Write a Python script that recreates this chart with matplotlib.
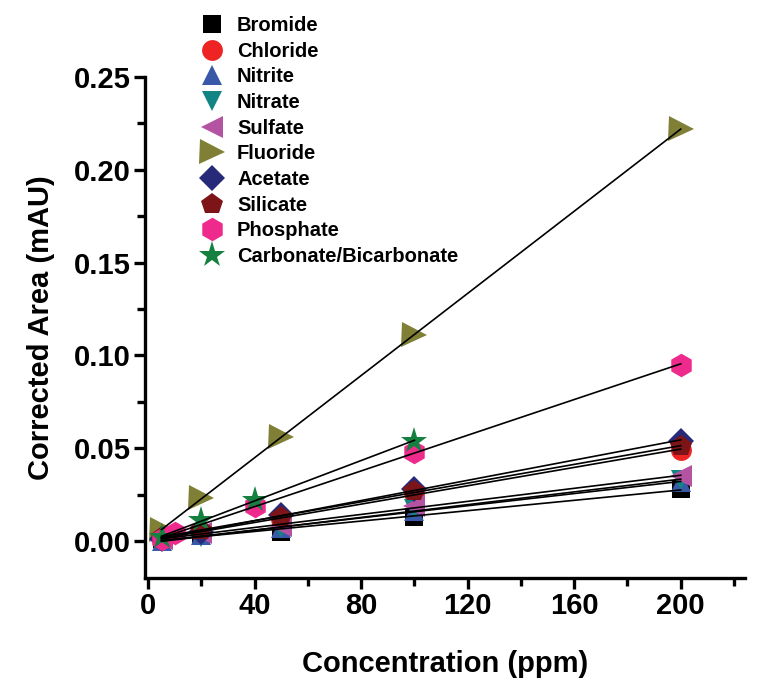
import numpy as np
import matplotlib
matplotlib.use("Agg")
import matplotlib.pyplot as plt
from matplotlib.ticker import MultipleLocator

plt.rcParams['font.family'] = ['Liberation Sans', 'DejaVu Sans']
plt.rcParams['font.weight'] = 'bold'

# ---- data ----
names = ["Bromide", "Chloride", "Nitrite", "Nitrate", "Sulfate", "Fluoride",
         "Acetate", "Silicate", "Phosphate", "Carbonate/Bicarbonate"]
conc_std = [5, 20, 50, 100, 200]
conc_phosphate = [5, 10, 40, 100, 200]
conc_carbonate = [5, 20, 40, 100]

bromide = [0.001, 0.003, 0.005, 0.013, 0.028]
chloride = [0.001, 0.005, 0.012, 0.026, 0.049]
nitrite = [0.000, 0.003, 0.007, 0.016, 0.032]
nitrate = [0.000, 0.002, 0.007, 0.017, 0.033]
sulfate = [0.001, 0.004, 0.008, 0.019, 0.035]
fluoride = [0.006, 0.023, 0.056, 0.111, 0.222]
acetate = [0.001, 0.005, 0.014, 0.028, 0.054]
silicate = [0.002, 0.006, 0.013, 0.027, 0.051]
phosphate = [0.001, 0.004, 0.019, 0.048, 0.095]
carbonate = [0.002, 0.011, 0.022, 0.054]

xs = [conc_std] * 8 + [conc_phosphate, conc_carbonate]
ys = [bromide, chloride, nitrite, nitrate, sulfate, fluoride, acetate,
      silicate, phosphate, carbonate]
markers = ['s', 'o', '^', 'v', '<', '>', 'D', 'p', 'h', '*']
colors = ['#000000', '#ee2424', '#3a58a8', '#128484', '#b553a3', '#7f7f35',
          '#262a78', '#7d1518', '#ee2a8c', '#15803f']
sizes = [12.5, 15, 15, 15, 16, 18, 13, 16, 17, 20]

fig = plt.figure(figsize=(7.6, 6.79), dpi=100)
ax = fig.add_axes([0.1908, 0.1487, 0.789, 0.738])

handles = []
for x, y, m, c, s, n in zip(xs, ys, markers, colors, sizes, names):
    x = np.array(x, float)
    y = np.array(y, float)
    h, = ax.plot(x, y, linestyle='none', marker=m, color=c, markersize=s,
                 markeredgewidth=0, label=n, zorder=2, clip_on=False)
    handles.append(h)
for x, y in zip(xs, ys):
    x = np.array(x, float)
    y = np.array(y, float)
    k, b = np.polyfit(x, y, 1)
    xx = np.array([x.min(), x.max()])
    ax.plot(xx, k * xx + b, color='black', lw=1.2, zorder=3)

ax.set_xlim(-1.2, 224)
ax.set_ylim(-0.02, 0.25)
ax.xaxis.set_major_locator(MultipleLocator(40))
ax.xaxis.set_minor_locator(MultipleLocator(20))
ax.set_yticks([0.0, 0.05, 0.10, 0.15, 0.20, 0.25])
ax.yaxis.set_minor_locator(MultipleLocator(0.025))
ax.yaxis.set_major_formatter(matplotlib.ticker.FormatStrFormatter('%.2f'))
ax.spines['top'].set_visible(False)
ax.spines['right'].set_visible(False)
for sp in ['left', 'bottom']:
    ax.spines[sp].set_linewidth(2.4)
ax.spines['left'].set_bounds(-0.02, 0.25)
ax.tick_params(which='major', length=8, width=2.4, labelsize=21, pad=2)
ax.tick_params(which='minor', length=6, width=2.4)
for lab in ax.get_xticklabels() + ax.get_yticklabels():
    lab.set_fontweight('bold')

ax.set_xlabel("Concentration (ppm)", fontsize=21, fontweight='bold', labelpad=22)
ax.set_ylabel("Corrected Area (mAU)", fontsize=21, fontweight='bold', labelpad=14)

fig.legend(handles=handles, loc='upper left', bbox_to_anchor=(0.255, 0.988),
           frameon=False, handlelength=1.0, handletextpad=0.75,
           labelspacing=0.33, borderaxespad=0, markerscale=1.0,
           prop={'weight': 'bold', 'size': 14.5})

fig.savefig("out.png", dpi=100)
